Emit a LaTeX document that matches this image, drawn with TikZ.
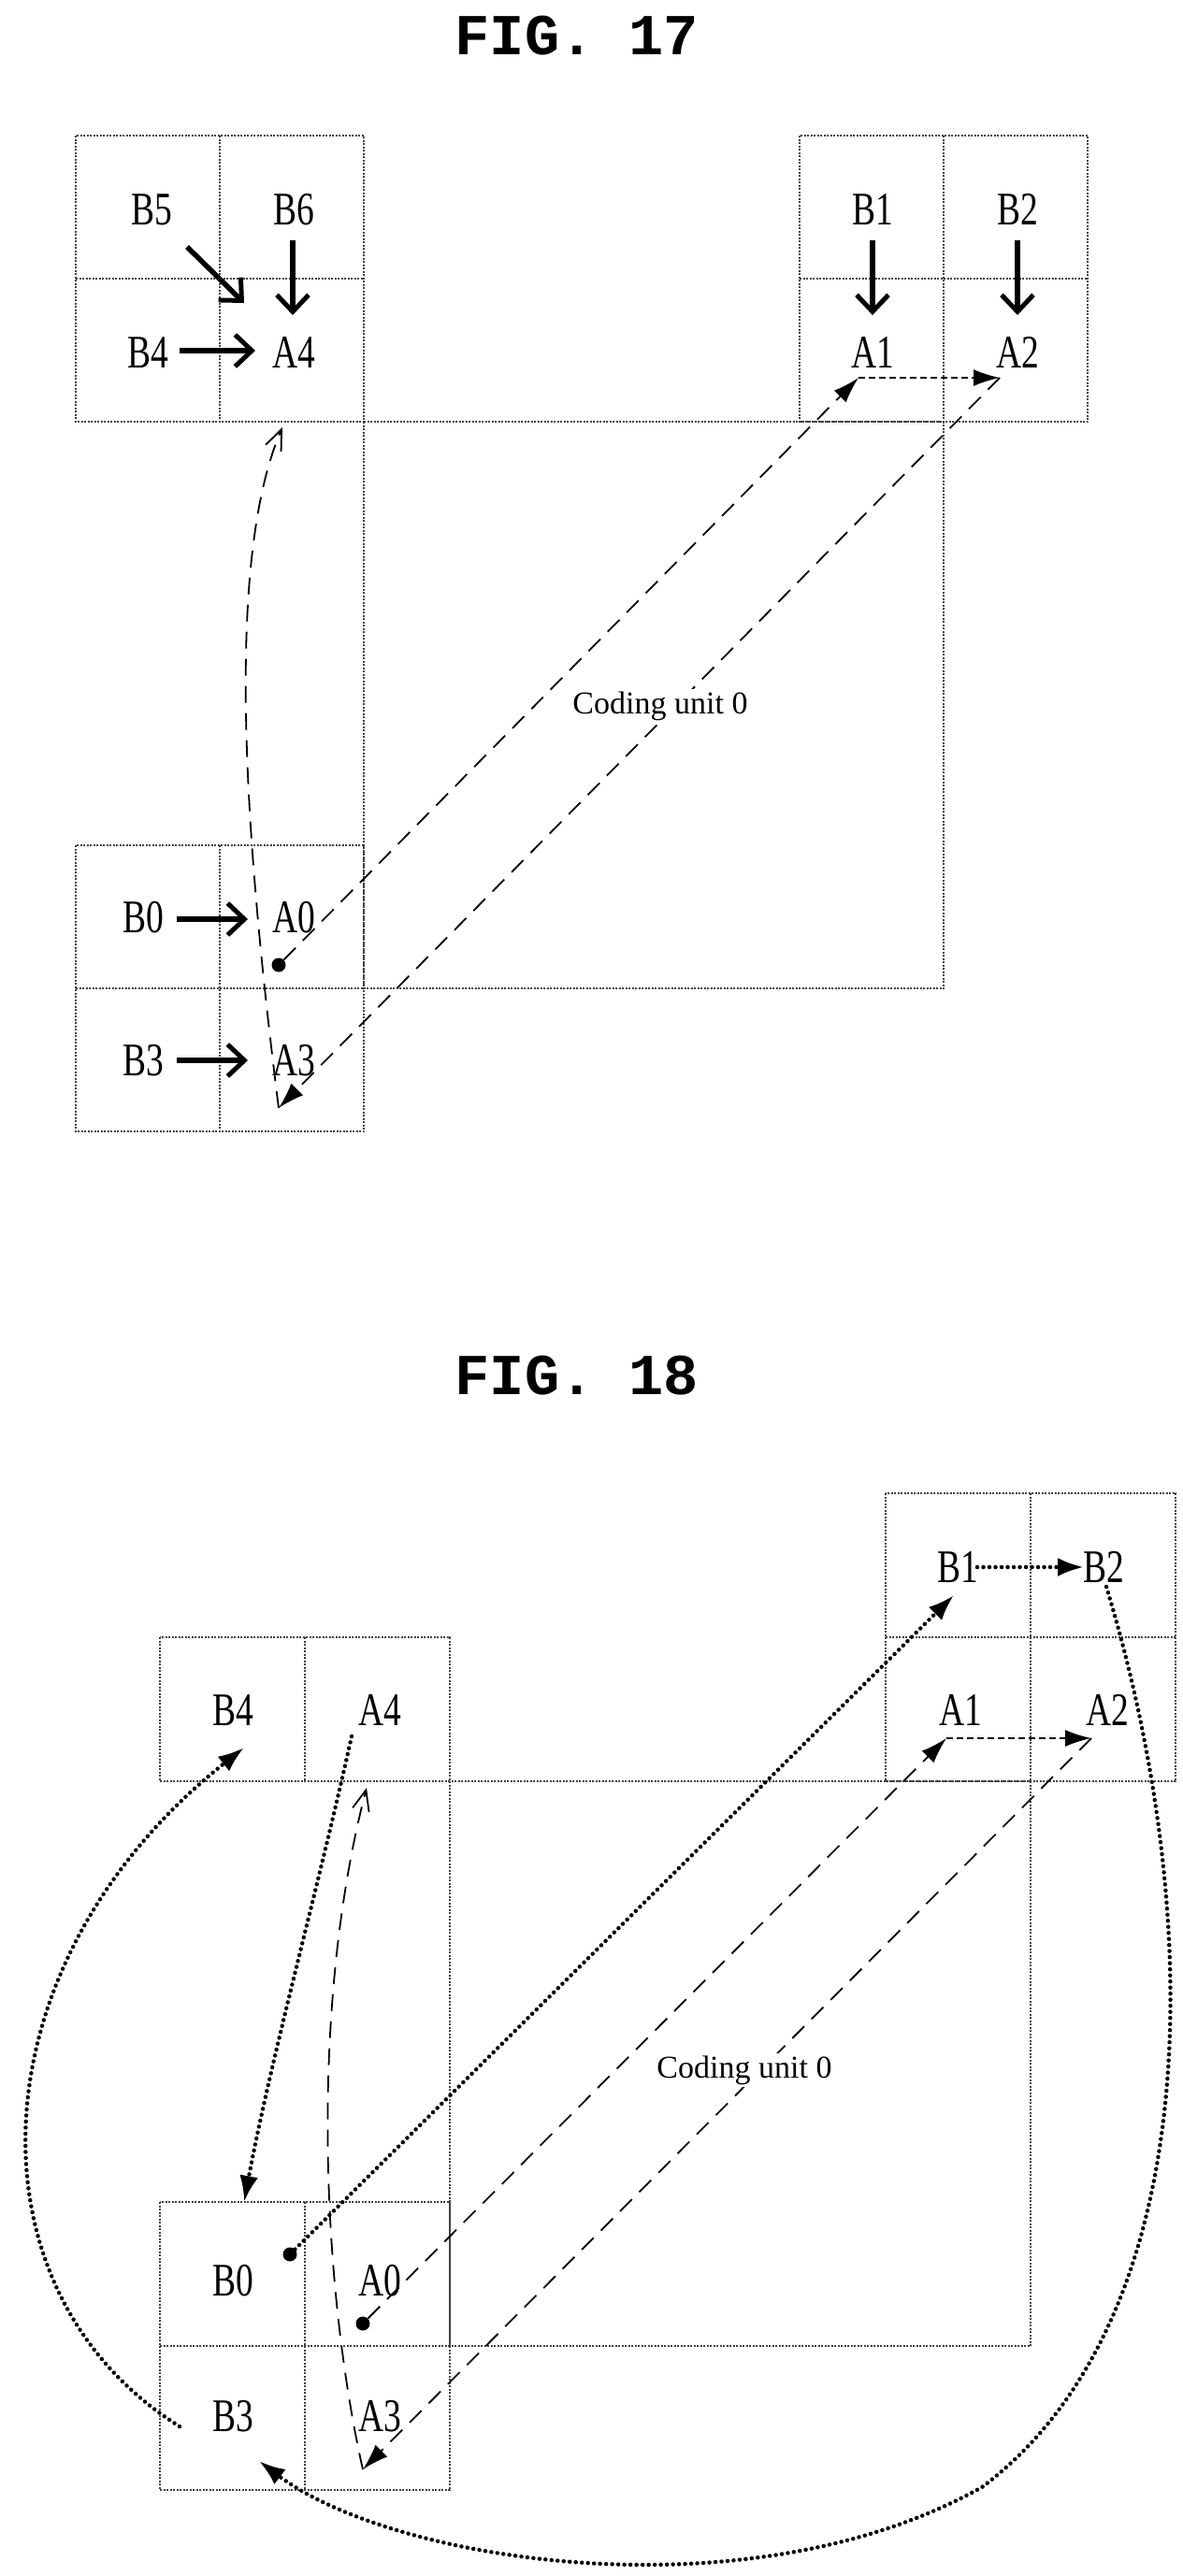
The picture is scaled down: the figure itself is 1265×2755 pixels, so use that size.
\documentclass[tikz,border=0pt]{standalone}
\usepackage{fontspec}
\setmainfont{Liberation Serif}
\newfontfamily\figfont{Liberation Mono}
\usetikzlibrary{arrows.meta}
\newcommand\lbl[1]{\scalebox{0.75}[1]{#1}}
\begin{document}
\begin{tikzpicture}[x=1pt,y=-1pt,
  cell/.style={draw=black!75,line width=1.3pt,dash pattern=on 2pt off 1.5pt},
  lab/.style={font=\fontsize{50}{50}\selectfont,inner sep=1pt},
  cu/.style={font=\fontsize{34}{34}\selectfont,fill=white,inner sep=3pt},
  fig/.style={font=\figfont\bfseries\fontsize{62}{62}\selectfont},
  big/.style={line width=5.5pt,-{Straight Barb[length=18pt,width=34pt,line width=5pt]}},
  dsh/.style={line width=1.8pt,dash pattern=on 18pt off 11pt,-{Latex[length=28pt,width=18pt]}},
  dshsh/.style={line width=1.8pt,dash pattern=on 7pt off 4pt,-{Latex[length=28pt,width=18pt]}},
  dshopen/.style={line width=1.8pt,dash pattern=on 18pt off 11pt,-{Straight Barb[length=22pt,width=18pt,line width=1.8pt]}},
  dot/.style={line width=4.5pt,dash pattern=on 0pt off 6.5pt,line cap=round,-{Latex[length=28pt,width=20pt]}}]
\useasboundingbox[fill=white] (0,0) rectangle (1265,2755);
% ---------- FIG 17 ----------
\node[fig] (t17) at (617,38) {FIG. 17};
\draw[cell] (81,145) rectangle (389,451); \draw[cell] (235,145)--(235,451); \draw[cell] (81,298)--(389,298);
\draw[cell] (855,145) rectangle (1163,451); \draw[cell] (1009,145)--(1009,451); \draw[cell] (855,298)--(1163,298);
\draw[cell] (81,904) rectangle (389,1210); \draw[cell] (235,904)--(235,1210); \draw[cell] (81,1057)--(389,1057);
\draw[cell] (389,451) rectangle (1009,1057);
\node[lab] (b5) at (162,224) {\lbl{B5}};
\node[lab] (b6) at (314,224) {\lbl{B6}};
\node[lab] (b4) at (158,377) {\lbl{B4}};
\node[lab] (a4) at (314,377) {\lbl{A4}};
\node[lab] (b1) at (933,224) {\lbl{B1}};
\node[lab] (b2) at (1088,224) {\lbl{B2}};
\node[lab] (a1) at (933,377) {\lbl{A1}};
\node[lab] (a2) at (1088,377) {\lbl{A2}};
\node[lab] (b0) at (153,981) {\lbl{B0}};
\node[lab] (a0) at (314,981) {\lbl{A0}};
\node[lab] (b3) at (153,1134) {\lbl{B3}};
\node[lab] (a3) at (314,1134) {\lbl{A3}};
\coordinate (p5) at (200,264); \coordinate (q5) at (261,324);
\coordinate (p6) at (313,257); \coordinate (q6) at (313,337);
\coordinate (p4) at (192,375); \coordinate (q4) at (273,375);
\coordinate (p1) at (933,257); \coordinate (q1) at (933,337);
\coordinate (p2) at (1088,257); \coordinate (q2) at (1088,337);
\coordinate (p0) at (189,983); \coordinate (q0) at (265,983);
\coordinate (p3) at (189,1134); \coordinate (q3) at (265,1134);
\draw[big] (p5)--(q5); \draw[big] (p6)--(q6); \draw[big] (p4)--(q4);
\draw[big] (p1)--(q1); \draw[big] (p2)--(q2);
\draw[big] (p0)--(q0); \draw[big] (p3)--(q3);
\node[circle,fill,inner sep=0pt,minimum size=15pt] (d0) at (298,1032) {};
\coordinate (e1) at (918,404); \coordinate (e2) at (1069,404);
\coordinate (e3) at (298,1185); \coordinate (e4) at (302,457);
\draw[dsh] (d0)--(e1);
\draw[dshsh] (e1)--(e2);
\draw[dsh] (e2)--(e3);
\draw[dshopen] (e3) .. controls (262,900) and (240,600) .. (e4);
\node[cu] (cu17) at (706,755) {Coding unit 0};
% ---------- FIG 18 ----------
\node[fig] (t18) at (617,1471) {FIG. 18};
\draw[cell] (171,1751) rectangle (481,1905); \draw[cell] (326,1751)--(326,1905);
\draw[cell] (947,1597) rectangle (1257,1905); \draw[cell] (1102,1597)--(1102,1905); \draw[cell] (947,1751)--(1257,1751);
\draw[cell] (171,2355) rectangle (481,2663); \draw[cell] (326,2355)--(326,2663); \draw[cell] (171,2509)--(481,2509);
\draw[cell] (481,1905) rectangle (1102,2509);
\node[lab] (c4) at (249,1829) {\lbl{B4}};
\node[lab] (f4) at (406,1829) {\lbl{A4}};
\node[lab] (c1) at (1024,1676) {\lbl{B1}};
\node[lab] (c2) at (1180,1676) {\lbl{B2}};
\node[lab] (f1) at (1027,1829) {\lbl{A1}};
\node[lab] (f2) at (1184,1829) {\lbl{A2}};
\node[lab] (c0) at (249,2439) {\lbl{B0}};
\node[lab] (f0) at (406,2439) {\lbl{A0}};
\node[lab] (c3) at (249,2584) {\lbl{B3}};
\node[lab] (f3) at (406,2584) {\lbl{A3}};
\node[circle,fill,inner sep=0pt,minimum size=15pt] (dc0) at (310,2411) {};
\node[circle,fill,inner sep=0pt,minimum size=15pt] (df0) at (388,2485) {};
\coordinate (g1) at (1012,1859); \coordinate (g2) at (1167,1859);
\coordinate (g3) at (388,2641); \coordinate (g4) at (392,1912);
\draw[dsh] (df0)--(g1);
\draw[dshsh] (g1)--(g2);
\draw[dsh] (g2)--(g3);
\draw[dshopen] (g3) .. controls (345,2450) and (330,2150) .. (g4);
\coordinate (h4) at (376,1857); \coordinate (h0) at (261,2355);
\coordinate (h1) at (1020,1706); \coordinate (k1) at (1045,1676); \coordinate (k2) at (1159,1676);
\coordinate (m2) at (1183,1697); \coordinate (h3) at (277,2632);
\coordinate (m3) at (192,2595); \coordinate (h5) at (261,1869);
\draw[dot] (h4) .. controls (340,2020) and (290,2200) .. (h0);
\draw[dot] (dc0)--(h1);
\draw[dot] (k1)--(k2);
\draw[dot] (m2) .. controls (1290,2050) and (1290,2480) .. (1050,2660)
  .. controls (800,2800) and (420,2740) .. (h3);
\draw[dot] (m3) .. controls (-40,2450) and (-30,2100) .. (h5);
\node[cu] (cu18) at (796,2214) {Coding unit 0};
\end{tikzpicture}
\end{document}
